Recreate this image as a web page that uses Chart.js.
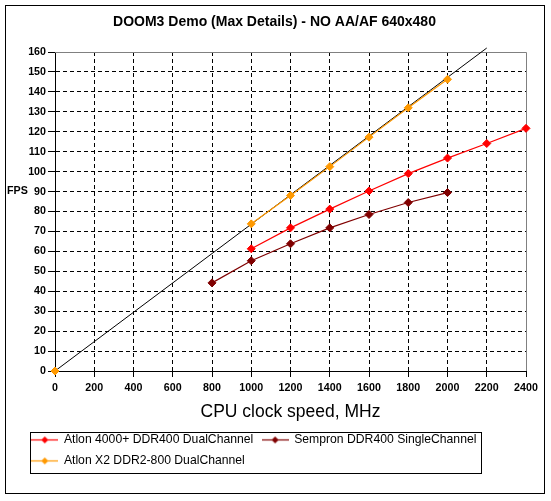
<!DOCTYPE html>
<html>
<head>
<meta charset="utf-8">
<title>DOOM3 Demo</title>
<script src="https://cdn.jsdelivr.net/npm/chart.js@4.4.1/dist/chart.umd.min.js"></script>
<style>
  html, body { margin: 0; padding: 0; background: #fff; }
  #wrap { width: 551px; height: 501px; }
</style>
</head>
<body>
<div id="wrap"><canvas id="doom3-chart" width="551" height="501"></canvas></div>
<script>
const FONT = "'Liberation Sans', Arial, sans-serif";

// x values (MHz) shared by all series, null = no measurement
const cpuMhz = [0, 200, 400, 600, 800, 1000, 1200, 1400, 1600, 1800, 2000, 2200, 2400];
const athlon4000 = [null, null, null, null, null, 61.3, 71.8, 81.2, 90.3, 99, 106.8, 114.1, 121.7];
const sempron = [null, null, null, null, 44.2, 55.3, 63.8, 71.8, 78.5, 84.5, 89.5, null, null];
const athlonX2 = [0, null, null, null, null, 73.8, 88, 102.5, 117.3, 132, 146.3, null, null];

// black reference line (ideal scaling)
const idealMhz = [0, 2200];
const idealFps = [0, 162];

const seriesNames = [
  "Atlon 4000+ DDR400 DualChannel",
  "Sempron DDR400 SingleChannel",
  "Atlon X2 DDR2-800 DualChannel"
];
const seriesColors = ["#ff0000", "#800000", "#ff9900"];

const titleText = "DOOM3 Demo (Max Details) - NO AA/AF 640x480";
const xTitle = "CPU clock speed, MHz";
const yTitle = "FPS";

const toPoints = (xs, ys) => xs.map((x, i) => ({ x, y: ys[i] }));

function legendSample(color) {
  const c = document.createElement("canvas");
  c.width = 27;
  c.height = 9;
  const g = c.getContext("2d");
  g.strokeStyle = color;
  g.lineWidth = 1.2;
  g.beginPath();
  g.moveTo(0, 4.5);
  g.lineTo(27, 4.5);
  g.stroke();
  g.fillStyle = color;
  g.beginPath();
  g.moveTo(13.5, 1);
  g.lineTo(17, 4.5);
  g.lineTo(13.5, 8);
  g.lineTo(10, 4.5);
  g.closePath();
  g.fill();
  return c;
}

const excelFrame = {
  id: "excelFrame",
  beforeDraw(chart) {
    const { ctx } = chart;
    ctx.save();
    ctx.fillStyle = "#fff";
    ctx.fillRect(0, 0, chart.width, chart.height);
    ctx.strokeStyle = "#000";
    ctx.lineWidth = 1;
    ctx.strokeRect(5.5, 5.5, 539, 488);
    ctx.restore();
  },
  beforeDatasetsDraw(chart) {
    // grey plot-area border on top and right
    const { ctx, chartArea: a } = chart;
    const top = Math.round(a.top) + 0.5;
    const right = Math.round(a.right) + 0.5;
    ctx.save();
    ctx.strokeStyle = "#808080";
    ctx.lineWidth = 1;
    ctx.beginPath();
    ctx.moveTo(a.left, top);
    ctx.lineTo(right, top);
    ctx.lineTo(right, a.bottom);
    ctx.stroke();
    ctx.restore();
  },
  afterDraw(chart) {
    const { ctx } = chart;
    const yScale = chart.scales.y;
    ctx.save();
    // horizontal "FPS" label next to the y axis
    ctx.fillStyle = "#000";
    ctx.font = "bold 10.7px " + FONT;
    ctx.textAlign = "left";
    ctx.textBaseline = "middle";
    ctx.fillText(yTitle, 7, yScale.getPixelForValue(90) - 1);

    // box around the legend
    const boxes = chart.legend.legendHitBoxes;
    if (boxes && boxes.length) {
      const left = Math.min(...boxes.map(b => b.left)) - 2;
      const right = Math.max(...boxes.map(b => b.left + b.width)) + 4;
      const top = Math.min(...boxes.map(b => b.top)) - 2;
      const bottom = Math.max(...boxes.map(b => b.top + b.height)) + 6;
      ctx.strokeStyle = "#000";
      ctx.lineWidth = 1;
      ctx.strokeRect(Math.round(left) + 0.5, Math.round(top) + 0.5,
        Math.round(right - left), Math.round(bottom - top));
    }
    ctx.restore();
  }
};

function makeSeries(name, ys, color, order) {
  return {
    label: name,
    data: toPoints(cpuMhz, ys),
    borderColor: color,
    backgroundColor: color,
    borderWidth: 1.2,
    pointStyle: "rectRot",
    pointRadius: 4,
    pointBorderWidth: 1,
    pointBorderColor: color,
    pointBackgroundColor: color,
    spanGaps: false,
    clip: false,
    order: order
  };
}

const hideEdge = (lo, hi) => (ctx) => {
  const v = ctx.tick ? ctx.tick.value : null;
  return (v === lo || v === hi) ? "rgba(0,0,0,0)" : "#000";
};

new Chart(document.getElementById("doom3-chart"), {
  type: "line",
  data: {
    datasets: [
      makeSeries(seriesNames[0], athlon4000, seriesColors[0], 1),
      makeSeries(seriesNames[1], sempron, seriesColors[1], 2),
      makeSeries(seriesNames[2], athlonX2, seriesColors[2], 3),
      {
        label: "ideal",
        data: toPoints(idealMhz, idealFps),
        borderColor: "#000",
        borderWidth: 1,
        pointRadius: 0,
        clip: false,
        order: 4
      }
    ]
  },
  options: {
    responsive: false,
    animation: false,
    events: [],
    layout: { padding: { left: 23, right: 25, top: 0, bottom: 24 } },
    plugins: {
      tooltip: { enabled: false },
      title: {
        display: true,
        text: titleText,
        color: "#000",
        font: { family: FONT, size: 14, weight: "bold" },
        padding: { top: 13.6, bottom: 21.6 }
      },
      legend: {
        position: "bottom",
        align: "start",
        labels: {
          color: "#000",
          font: { family: FONT, size: 12.2 },
          padding: 8.8,
          usePointStyle: true,
          pointStyleWidth: 26,
          generateLabels(chart) {
            return chart.data.datasets.slice(0, 3).map((ds, i) => ({
              text: ds.label,
              pointStyle: legendSample(ds.borderColor),
              fillStyle: ds.borderColor,
              strokeStyle: ds.borderColor,
              lineWidth: 0,
              hidden: false,
              fontColor: "#000",
              datasetIndex: i
            }));
          }
        }
      }
    },
    scales: {
      x: {
        type: "linear",
        min: 0,
        max: 2400,
        afterFit(scale) { scale.height = 54; },
        ticks: {
          stepSize: 200,
          color: "#000",
          padding: 4.3,
          maxRotation: 0,
          autoSkip: false,
          callback: (value) => String(value),
          font: { family: FONT, size: 10.7, weight: "bold" }
        },
        grid: {
          color: hideEdge(0, 2400),
          lineWidth: 1,
          tickLength: 6,
          tickColor: "#000",
          tickWidth: 1
        },
        border: { display: true, color: "#000", width: 1, dash: [4, 3] },
        title: {
          display: true,
          text: xTitle,
          color: "#000",
          font: { family: FONT, size: 17.5 },
          padding: { top: 0, bottom: 2 }
        }
      },
      y: {
        min: 0,
        max: 160,
        afterFit(scale) { scale.width = 32; },
        ticks: {
          stepSize: 10,
          color: "#000",
          padding: 2,
          callback: (value) => String(value),
          font: { family: FONT, size: 10.7, weight: "bold" }
        },
        grid: {
          color: hideEdge(0, 160),
          lineWidth: 1,
          tickLength: 7,
          tickColor: "#000",
          tickWidth: 1
        },
        border: { display: true, color: "#000", width: 1, dash: [4, 3] },
        title: { display: false }
      }
    }
  },
  plugins: [excelFrame]
});
</script>
</body>
</html>
